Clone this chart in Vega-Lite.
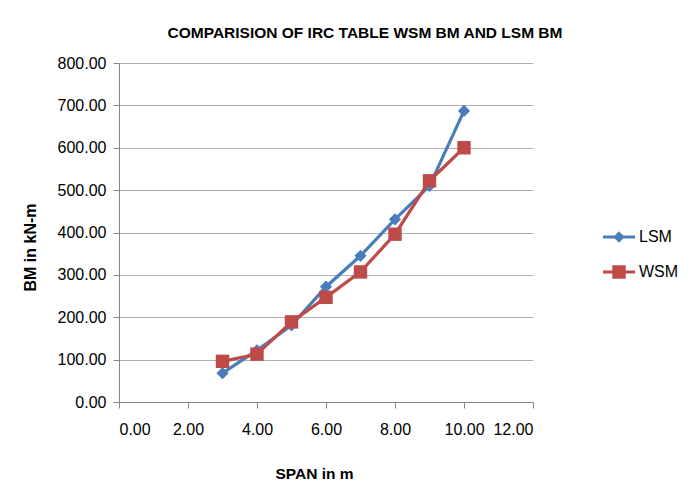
{
  "$schema": "https://vega.github.io/schema/vega-lite/v6.json",
  "autosize": {"type": "none"},
  "width": 414,
  "height": 339,
  "padding": {"left": 119, "top": 63, "right": 161, "bottom": 97},
  "background": "white",
  "config": {
    "view": {"stroke": null},
    "font": "Liberation Sans"
  },
  "title": {
    "text": "COMPARISION  OF IRC TABLE WSM BM AND LSM BM",
    "font": "Liberation Sans",
    "fontSize": 15.5,
    "fontWeight": "bold",
    "color": "#000000",
    "anchor": "middle",
    "dx": 39,
    "offset": 14
  },
  "data": {
    "values": [
      {"span": 3, "bm": 68, "method": "LSM"},
      {"span": 4, "bm": 122, "method": "LSM"},
      {"span": 5, "bm": 181, "method": "LSM"},
      {"span": 6, "bm": 272, "method": "LSM"},
      {"span": 7, "bm": 345, "method": "LSM"},
      {"span": 8, "bm": 431, "method": "LSM"},
      {"span": 9, "bm": 510, "method": "LSM"},
      {"span": 10, "bm": 687, "method": "LSM"},
      {"span": 3, "bm": 96, "method": "WSM"},
      {"span": 4, "bm": 113, "method": "WSM"},
      {"span": 5, "bm": 189, "method": "WSM"},
      {"span": 6, "bm": 247, "method": "WSM"},
      {"span": 7, "bm": 307, "method": "WSM"},
      {"span": 8, "bm": 396, "method": "WSM"},
      {"span": 9, "bm": 522, "method": "WSM"},
      {"span": 10, "bm": 600, "method": "WSM"}
    ]
  },
  "encoding": {
    "x": {
      "field": "span",
      "type": "quantitative",
      "scale": {"domain": [0, 12], "nice": false, "zero": true},
      "axis": {
        "title": "SPAN in m",
        "values": [0, 2, 4, 6, 8, 10, 12],
        "format": ".2f",
        "grid": false,
        "domainColor": "#868686",
        "tickColor": "#868686",
        "tickSize": 6,
        "labelFont": "Liberation Sans",
        "labelFontSize": 16,
        "labelColor": "#000000",
        "labelPadding": 13,
        "titleFont": "Liberation Sans",
        "titleFontSize": 15.5,
        "titleFontWeight": "bold",
        "titleColor": "#000000",
        "titleX": 195,
        "titleY": 64,
        "titleBaseline": "top"
      }
    },
    "y": {
      "field": "bm",
      "type": "quantitative",
      "scale": {"domain": [0, 800], "nice": false},
      "axis": {
        "title": "BM in kN-m",
        "values": [0, 100, 200, 300, 400, 500, 600, 700, 800],
        "format": ".2f",
        "grid": true,
        "gridColor": "#b0b0b0",
        "gridWidth": 1,
        "domainColor": "#868686",
        "tickColor": "#868686",
        "tickSize": 6,
        "labelFont": "Liberation Sans",
        "labelFontSize": 16,
        "labelColor": "#000000",
        "labelPadding": 7,
        "titleFont": "Liberation Sans",
        "titleFontSize": 16,
        "titleFontWeight": "bold",
        "titleColor": "#000000",
        "titleAngle": -90,
        "titleX": -89,
        "titleY": 184,
        "titleBaseline": "middle",
        "titleAlign": "center"
      }
    },
    "color": {
      "field": "method",
      "type": "nominal",
      "scale": {"domain": ["LSM", "WSM"], "range": ["#4a7ebb", "#be4b48"]},
      "legend": {
        "title": null,
        "orient": "none",
        "legendX": 484,
        "legendY": 158,
        "labelFont": "Liberation Sans",
        "labelFontSize": 16,
        "labelColor": "#000000",
        "symbolSize": 1024,
        "symbolStrokeWidth": 0,
        "rowPadding": 11,
        "labelOffset": 4,
        "encode": {
          "symbols": {
            "update": {
              "shape": {"signal": "datum.value === 'LSM' ? 'M-1,-0.1H1V0.1H-1Z M0,-0.36L0.36,0L0,0.36L-0.36,0Z' : 'M-1,-0.1H1V0.1H-1Z M-0.42,-0.42H0.42V0.42H-0.42Z'"},
              "strokeWidth": {"value": 0},
              "size": {"value": 1024},
              "fill": {"signal": "datum.value === 'LSM' ? '#4a7ebb' : '#be4b48'"},
              "opacity": {"value": 1}
            }
          }
        }
      }
    }
  },
  "layer": [
    {
      "mark": {"type": "line", "strokeWidth": 3.2},
      "encoding": {"detail": {"field": "method"}}
    },
    {
      "transform": [{"filter": "datum.method === 'LSM'"}],
      "mark": {"type": "point", "filled": true, "opacity": 1, "shape": "diamond", "size": 150}
    },
    {
      "transform": [{"filter": "datum.method === 'WSM'"}],
      "mark": {"type": "point", "filled": true, "opacity": 1, "shape": "square", "size": 180}
    }
  ]
}
